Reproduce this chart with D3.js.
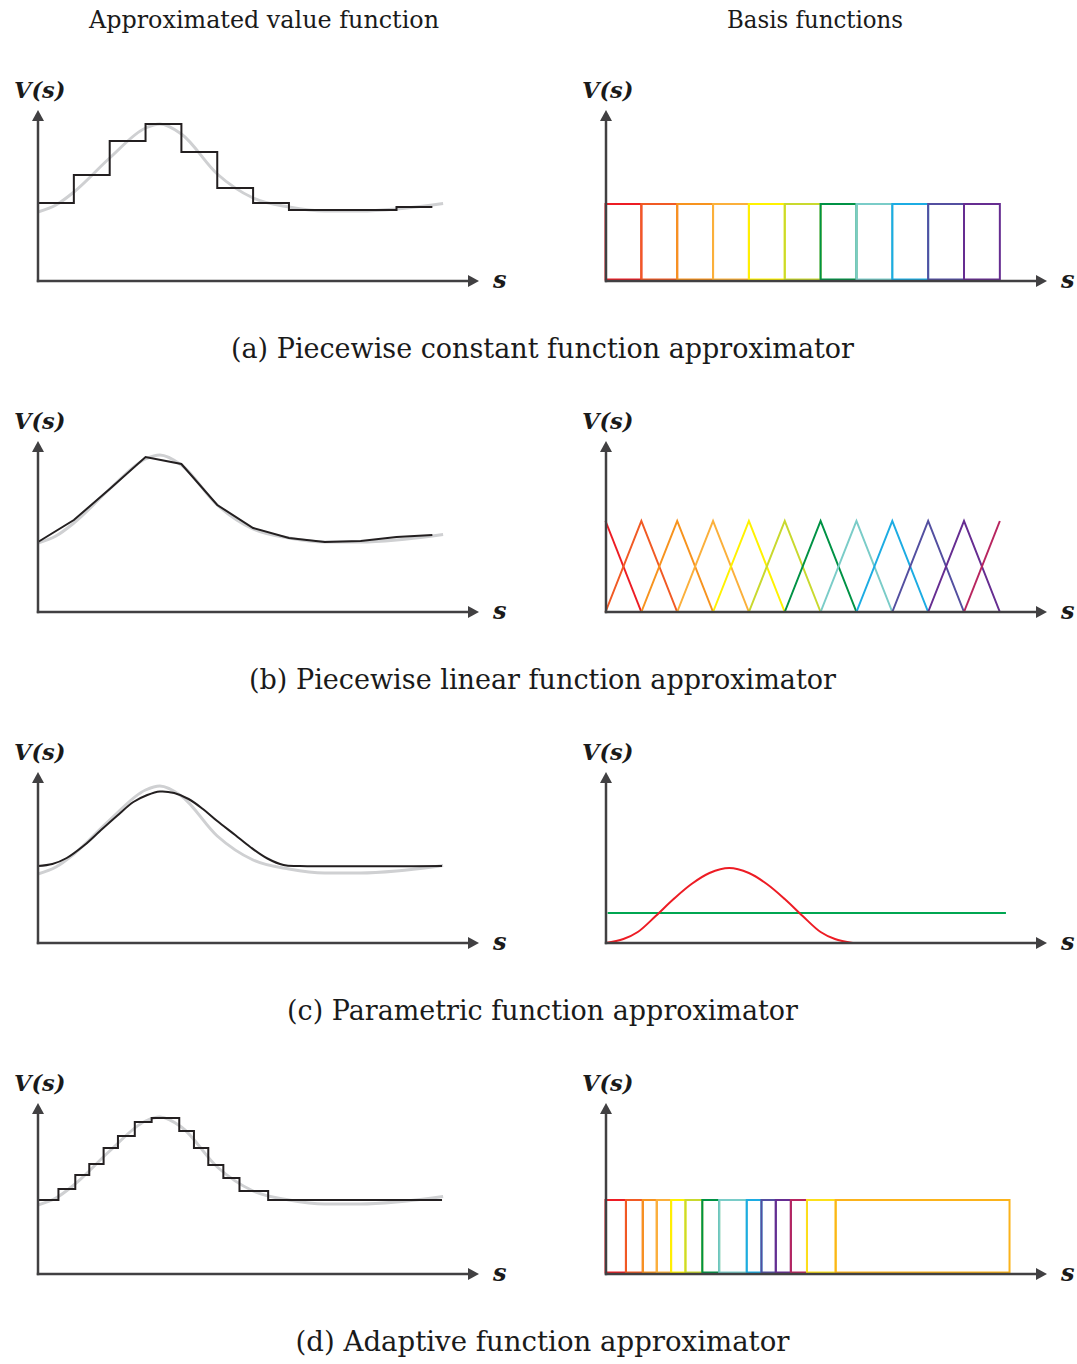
<!DOCTYPE html>
<html>
<head>
<meta charset="utf-8">
<script src="https://cdn.jsdelivr.net/npm/d3@7"></script>
<style>
  body { margin: 0; background: #fff; }
  svg { display: block; }
  .hdr, .cap { font-family: "DejaVu Serif", serif; fill: #1a1a1a; }
  .lbl { font-family: "DejaVu Serif", serif; font-weight: bold; font-style: italic; fill: #1a1a1a; }
</style>
</head>
<body>
<svg id="chart" width="1077" height="1364"></svg>
<script>
var headers = ["Approximated value function", "Basis functions"];
var captions = [
    "(a) Piecewise constant function approximator",
    "(b) Piecewise linear function approximator",
    "(c) Parametric function approximator",
    "(d) Adaptive function approximator"
];

// true value function (grey curve, same in every row)
var trueS = [0, 0.5, 1, 2, 3, 3.4, 4, 5, 6, 7, 8, 9, 10, 11, 11.3];
var trueV = [69, 76, 89, 123, 153, 157, 147, 107, 83, 74, 70, 70, 72, 76, 77.5];

// (a) piecewise constant
var constEdges = [0, 1, 2, 3, 4, 5, 6, 7, 8, 9, 10, 11];
var constV = [78, 106, 140, 157, 129, 93, 78, 71, 71, 71, 74];
var constBasisH = 77;

// (b) piecewise linear
var linS = [0, 1, 2, 3, 4, 5, 6, 7, 8, 9, 10, 11];
var linV = [70, 92, 123, 155, 148, 107, 84, 74, 70, 71, 75, 77];
var hatH = 91;

// (c) parametric
var paramS = [0, 0.4, 0.8, 1.3, 1.73, 2.2, 2.66, 3.05, 3.4, 3.8, 4.2, 4.6, 5.0, 5.5, 5.92, 6.4, 6.85, 7.3, 11.27];
var paramV = [77, 79, 85, 98, 112, 127, 141, 148, 151.5, 150, 144, 134, 122, 108, 96, 84.5, 78, 77, 77];
var bumpS = [0, 0.5, 0.9, 1.4, 1.9, 2.4, 2.9, 3.45, 4.0, 4.5, 5.0, 5.5, 6.0, 6.4, 6.9];
var bumpV = [0, 4, 11, 27, 44, 59, 70, 75, 70, 59, 44, 27, 11, 4, 0];
var flatS = [0.06, 11.17];
var flatV = 30;

// (d) adaptive
var adaptEdges = [0, 0.57, 1.04, 1.43, 1.83, 2.23, 2.7, 3.17, 3.94, 4.35, 4.75, 5.17, 5.62, 6.42, 11.27];
var adaptV = [74, 85, 99, 110, 126, 138, 152, 156, 143, 126, 109, 96, 83, 74];
var adaptBasisH = 74;

var palette = ["#ed1c24", "#f15a24", "#f7931e", "#fbb03b", "#fff200", "#c9d92e",
    "#009245", "#7accc8", "#1cace3", "#534fa0", "#662d91", "#b8255f"];
var adaptColors = palette.concat(["#fde01a", "#fbb31b"]);

var svg = d3.select("#chart");
var AX = "#414042";
var ROW0 = 281, ROWH = 331;
var LEFT0 = 38, RIGHT0 = 605.5, UNIT = 35.85;

function makePanel(row, side) {
    var x0 = side == 0 ? LEFT0 : RIGHT0;
    var y0 = ROW0 + row * ROWH;
    var g = svg.append("g");
    var x = d3.scaleLinear().domain([0, 11]).range([x0, x0 + 11 * UNIT]);
    var y = d3.scaleLinear().domain([0, 170]).range([y0, y0 - 170]);
    return { g: g, x: x, y: y, x0: x0, y0: y0 };
}

function drawAxes(p) {
    var ax = Math.round(p.x0), y0 = p.y0;
    p.g.append("line").attr("x1", ax).attr("y1", y0 + 1.2).attr("x2", ax).attr("y2", y0 - 162)
        .attr("stroke", AX).attr("stroke-width", 2.5);
    p.g.append("path").attr("d", `M${ax - 6},${y0 - 160}L${ax},${y0 - 171}L${ax + 6},${y0 - 160}Z`).attr("fill", AX);
    p.g.append("line").attr("x1", ax - 1.2).attr("y1", y0).attr("x2", ax + 432).attr("y2", y0)
        .attr("stroke", AX).attr("stroke-width", 2.5);
    p.g.append("path").attr("d", `M${ax + 430},${y0 - 6}L${ax + 441},${y0}L${ax + 430},${y0 + 6}Z`).attr("fill", AX);
    p.g.append("text").attr("class", "lbl").attr("x", ax - 24).attr("y", y0 - 183)
        .attr("font-size", 22.5).text("V(s)");
    p.g.append("text").attr("class", "lbl").attr("x", ax + 455).attr("y", y0 + 7)
        .attr("font-size", 24).text("s");
}

function drawTrue(p) {
    var line = d3.line().x(function (d, i) { return p.x(trueS[i]); })
        .y(function (d) { return p.y(d); }).curve(d3.curveMonotoneX);
    p.g.append("path").attr("d", line(trueV)).attr("fill", "none")
        .attr("stroke", "#cfd0d2").attr("stroke-width", 3);
}

function drawSteps(p, edges, vals) {
    var pts = vals.map(function (v, i) { return [edges[i], v]; });
    pts.push([edges[edges.length - 1], vals[vals.length - 1]]);
    var line = d3.line().x(function (d) { return p.x(d[0]); })
        .y(function (d) { return p.y(d[1]); }).curve(d3.curveStepAfter);
    p.g.append("path").attr("d", line(pts)).attr("fill", "none")
        .attr("stroke", "#231f20").attr("stroke-width", 2);
}

function drawRects(p, edges, h, colors) {
    for (var i = 0; i < edges.length - 1; i++) {
        p.g.append("rect")
            .attr("x", p.x(edges[i])).attr("y", p.y(h))
            .attr("width", p.x(edges[i + 1]) - p.x(edges[i]))
            .attr("height", p.y(0) - p.y(h) - 1.5)
            .attr("fill", "none").attr("stroke", colors[i]).attr("stroke-width", 2);
    }
}

var titles = svg.append("g");
titles.append("text").attr("class", "hdr").attr("x", 264).attr("y", 28).attr("font-size", 24)
    .attr("text-anchor", "middle").attr("textLength", 350).attr("lengthAdjust", "spacingAndGlyphs").text(headers[0]);
titles.append("text").attr("class", "hdr").attr("x", 815).attr("y", 28).attr("font-size", 24)
    .attr("text-anchor", "middle").attr("textLength", 176).attr("lengthAdjust", "spacingAndGlyphs").text(headers[1]);

var capWidths = [623, 587, 511, 494];
captions.forEach(function (c, r) {
    svg.append("text").attr("class", "cap").attr("x", 542.5).attr("y", ROW0 + r * ROWH + 77)
        .attr("font-size", 28).attr("text-anchor", "middle")
        .attr("textLength", capWidths[r]).attr("lengthAdjust", "spacingAndGlyphs").text(c);
});

// row a
var p = makePanel(0, 0);
drawTrue(p);
drawSteps(p, constEdges, constV);
drawAxes(p);
p = makePanel(0, 1);
drawRects(p, constEdges, constBasisH, palette);
drawAxes(p);

// row b
p = makePanel(1, 0);
drawTrue(p);
var linLine = d3.line().x(function (d, i) { return p.x(linS[i]); }).y(function (d) { return p.y(d); });
p.g.append("path").attr("d", linLine(linV)).attr("fill", "none").attr("stroke", "#231f20").attr("stroke-width", 2);
drawAxes(p);
p = makePanel(1, 1);
linS.forEach(function (k, i) {
    var pts = [[k - 1, 0], [k, hatH], [k + 1, 0]].filter(function (d) { return d[0] >= 0 && d[0] <= 11; });
    var hat = d3.line().x(function (d) { return p.x(d[0]); }).y(function (d) { return p.y(d[1]); });
    p.g.append("path").attr("d", hat(pts)).attr("fill", "none").attr("stroke", palette[i]).attr("stroke-width", 2);
});
drawAxes(p);

// row c
p = makePanel(2, 0);
drawTrue(p);
var paramLine = d3.line().x(function (d, i) { return p.x(paramS[i]); })
    .y(function (d) { return p.y(d); }).curve(d3.curveCatmullRom.alpha(0.5));
p.g.append("path").attr("d", paramLine(paramV)).attr("fill", "none").attr("stroke", "#231f20").attr("stroke-width", 2);
drawAxes(p);
p = makePanel(2, 1);
p.g.append("line").attr("x1", p.x(flatS[0])).attr("x2", p.x(flatS[1]))
    .attr("y1", p.y(flatV)).attr("y2", p.y(flatV)).attr("stroke", "#00a651").attr("stroke-width", 2);
var bumpLine = d3.line().x(function (d, i) { return p.x(bumpS[i]); })
    .y(function (d) { return p.y(d); }).curve(d3.curveCatmullRom.alpha(0.5));
p.g.append("path").attr("d", bumpLine(bumpV)).attr("fill", "none").attr("stroke", "#ed1c24").attr("stroke-width", 2);
drawAxes(p);

// row d
p = makePanel(3, 0);
drawTrue(p);
drawSteps(p, adaptEdges, adaptV);
drawAxes(p);
p = makePanel(3, 1);
drawRects(p, adaptEdges, adaptBasisH, adaptColors);
drawAxes(p);
</script>
</body>
</html>
